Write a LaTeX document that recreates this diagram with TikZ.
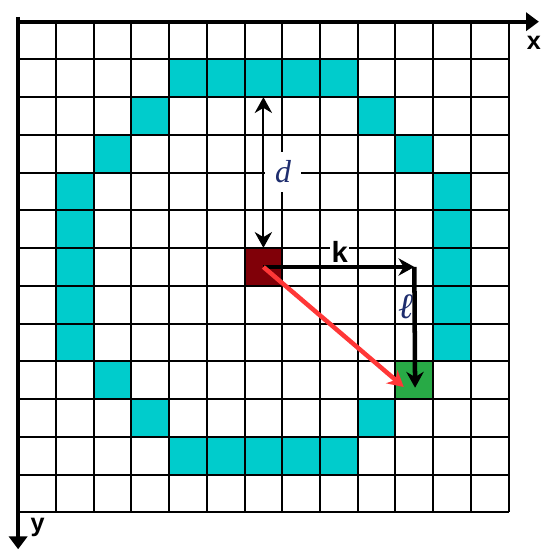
\documentclass[tikz,border=0pt]{standalone}
\usepackage{fontspec}
\setsansfont{Liberation Sans}
\newfontfamily\labelserif{Liberation Serif}
\usetikzlibrary{arrows.meta}
\definecolor{ringcyan}{RGB}{0,204,204}
\definecolor{srcred}{RGB}{128,0,8}
\definecolor{dstgreen}{RGB}{40,170,70}
\definecolor{distred}{RGB}{255,55,55}
\definecolor{labelnavy}{RGB}{30,45,110}
\tikzset{
  ringcell/.style={fill=ringcyan},
  srccell/.style={rectangle, fill=srcred, minimum size=1cm, inner sep=0pt},
  dstcell/.style={rectangle, fill=dstgreen, minimum size=1cm, inner sep=0pt},
  gridline/.style={line width=1.5pt, black},
  axis/.style={-{Triangle[length=3.4mm, width=4.8mm]}, line width=3pt},
  axislabel/.style={font=\sffamily\bfseries\fontsize{19}{19}\selectfont, inner sep=1pt},
  measure/.style={{Stealth[length=4.2mm, width=4.6mm]}-{Stealth[length=4.2mm, width=4.6mm]}, line width=1.6pt},
  steparrow/.style={-{Stealth[length=4.2mm, width=4.6mm]}, line width=3.4pt},
  distarrow/.style={-{Stealth[length=4.2mm, width=4.6mm]}, line width=3.4pt, distred},
  mathlabel/.style={fill=white, text=labelnavy, font=\labelserif\itshape\fontsize{24}{24}\selectfont, inner sep=1pt},
  boldlabel/.style={fill=white, font=\sffamily\bfseries\fontsize{22}{22}\selectfont, inner sep=1pt}
}

\begin{document}
\begin{tikzpicture}[x=1cm, y=-1cm]
  \useasboundingbox (-0.48,-0.575) rectangle (13.83,14.0);
  \foreach \c/\r in {4/1,5/1,6/1,7/1,8/1, 3/2,9/2, 2/3,10/3,
                     1/4,11/4,1/5,11/5,1/6,11/6,1/7,11/7,1/8,11/8,
                     2/9, 3/10,9/10, 4/11,5/11,6/11,7/11,8/11}
    \fill[ringcell] (\c,\r) rectangle ++(1,1);
  \node[srccell] (src) at (6.5,6.5) {};
  \node[dstcell] (dst) at (10.5,9.5) {};
  \foreach \i in {0,...,13} {
    \draw[gridline] (\i,0) -- (\i,13);
    \draw[gridline] (0,\i) -- (13,\i);
  }
  \coordinate (xstart) at (-0.05,0);
  \coordinate (xend) at (13.8,0);
  \coordinate (ystart) at (0,-0.13);
  \coordinate (yend) at (0,13.98);
  \draw[axis] (xstart) -- (xend);
  \draw[axis] (ystart) -- (yend);
  \node[axislabel] (xlab) at (13.67,0.57) {x};
  \node[axislabel] (ylab) at (0.52,13.4) {y};

  \node[mathlabel, minimum width=0.95cm, minimum height=1.05cm] (dlab) at (7.02,3.98) {d};
  \coordinate (ringtop) at (6.5,2);
  \draw[measure] (ringtop) -- (src.north);
  \coordinate (corner) at (10.5,6.5);
  \coordinate (dstend) at (10.52,9.7);
  \coordinate (distend) at (10.22,9.68);
  \node[boldlabel] (klab) at (8.52,6.1) {k};
  \node[mathlabel, font=\labelserif\itshape\fontsize{27}{27}\selectfont] (llab) at (10.27,7.55) {ℓ};
  \draw[steparrow] (src.center) -- (corner);
  \draw[steparrow] (corner) -- (dstend);
  \draw[distarrow] (src.center) -- (distend);
\end{tikzpicture}
\end{document}
